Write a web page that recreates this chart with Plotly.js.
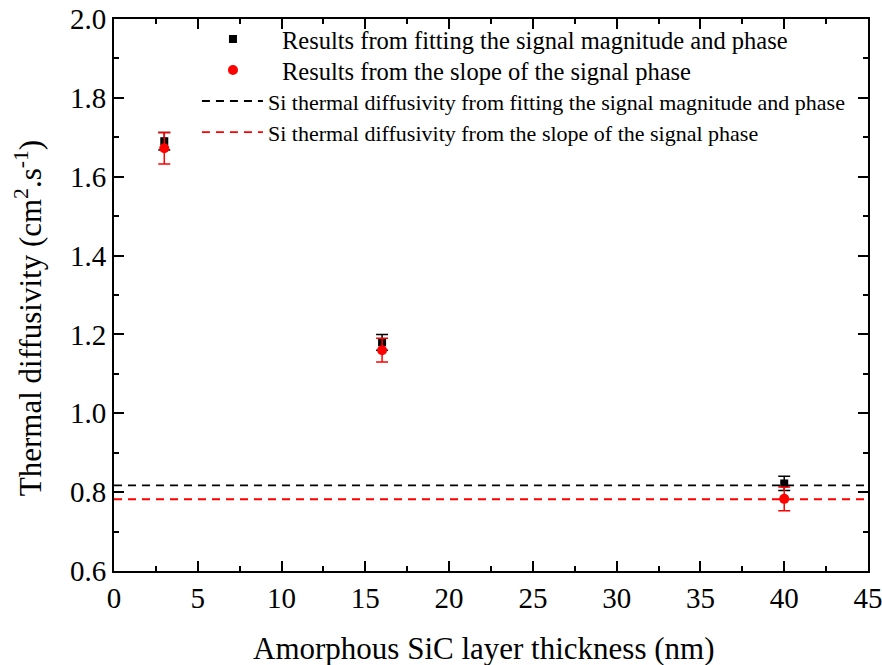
<!DOCTYPE html>
<html>
<head>
<meta charset="utf-8">
<script src="https://cdn.plot.ly/plotly-3.0.1.min.js"></script>
<style>html,body{margin:0;padding:0;background:#fff;}#chart{width:882px;height:665px;}</style>
</head>
<body>
<div id="chart"></div>
<script>
// Data
const thickness = [3, 16, 40];
const fitDiffusivity = [1.69, 1.18, 0.822];
const fitError = [0.022, 0.02, 0.018];
const slopeDiffusivity = [1.672, 1.16, 0.783];
const slopeError = [0.04, 0.03, 0.03];
const siFitLevel = 0.817;
const siSlopeLevel = 0.782;
const lineX = [0, 45];
const names = [
  "Results from fitting the signal magnitude and phase",
  "Results from the slope of the signal phase",
  "Si thermal diffusivity from fitting the signal magnitude and phase",
  "Si thermal diffusivity from the slope of the signal phase"
];
const xTitle = "Amorphous SiC layer thickness (nm)";
const yTitle = "Thermal diffusivity (cm<sup>2</sup>.s<sup>-1</sup>)";

const serif = "Liberation Serif";

const traces = [
  {
    x: thickness, y: fitDiffusivity, type: "scatter", mode: "markers",
    name: names[0], legend: "legend",
    marker: {symbol: "square", size: 8, color: "#000"},
    error_y: {type: "data", array: fitError, visible: true, color: "#000", thickness: 1.5, width: 6}
  },
  {
    x: thickness, y: slopeDiffusivity, type: "scatter", mode: "markers",
    name: names[1], legend: "legend2",
    marker: {symbol: "circle", size: 10, color: "#ff0000"},
    error_y: {type: "data", array: slopeError, visible: true, color: "#ff0000", thickness: 1.5, width: 6}
  },
  {
    x: lineX, y: [siFitLevel, siFitLevel], type: "scatter", mode: "lines",
    name: names[2], legend: "legend3",
    line: {color: "#000", dash: "8px,6px", width: 1.8}
  },
  {
    x: lineX, y: [siSlopeLevel, siSlopeLevel], type: "scatter", mode: "lines",
    name: names[3], legend: "legend4",
    line: {color: "#ff0000", dash: "8px,6px", width: 1.8}
  }
];

const axisCommon = {
  showgrid: false, zeroline: false,
  showline: true, linecolor: "#000", linewidth: 2,
  mirror: "ticks", ticks: "inside", ticklen: 10, tickwidth: 2, tickcolor: "#000",
  tickfont: {family: serif, size: 29, color: "#000"},
  ticklabeloverflow: "allow"
};

function legendBox(x, y, size, itemwidth) {
  return {
    x: x, y: y, xanchor: "left", yanchor: "top",
    bgcolor: "rgba(0,0,0,0)", borderwidth: 0,
    font: {family: serif, size: size, color: "#000"},
    itemwidth: itemwidth
  };
}

const layout = {
  width: 882, height: 665,
  margin: {l: 114, r: 14, t: 19, b: 94},
  paper_bgcolor: "#fff", plot_bgcolor: "#fff",
  font: {family: serif, color: "#000"},
  showlegend: true,
  legend: legendBox(0.0928, 1.0043, 24.5, 88),
  legend2: legendBox(0.0928, 0.9482, 24.5, 88),
  legend3: legendBox(0.110, 0.8891, 22, 61),
  legend4: legendBox(0.110, 0.8329, 22, 61),
  xaxis: Object.assign({}, axisCommon, {
    range: [0, 45], dtick: 5, tick0: 0,
    minor: {dtick: 2.5, ticks: "inside", ticklen: 5, tickwidth: 2, tickcolor: "#000"}
  }),
  yaxis: Object.assign({}, axisCommon, {
    range: [0.6, 2.0], dtick: 0.2, tick0: 0.6, tickformat: ".1f",
    minor: {dtick: 0.1, ticks: "inside", ticklen: 5, tickwidth: 2, tickcolor: "#000"}
  }),
  annotations: [
    {text: xTitle, xref: "paper", yref: "paper", x: 0.4907, y: -0.1395, xanchor: "center", yanchor: "middle",
     showarrow: false, font: {family: serif, size: 31, color: "#000"}},
    {text: yTitle, xref: "paper", yref: "paper", x: -0.114, y: 0.458, xanchor: "center", yanchor: "middle",
     textangle: -90, showarrow: false, font: {family: serif, size: 31, color: "#000"}}
  ]
};

Plotly.newPlot("chart", traces, layout, {staticPlot: true, displayModeBar: false});
</script>
</body>
</html>
